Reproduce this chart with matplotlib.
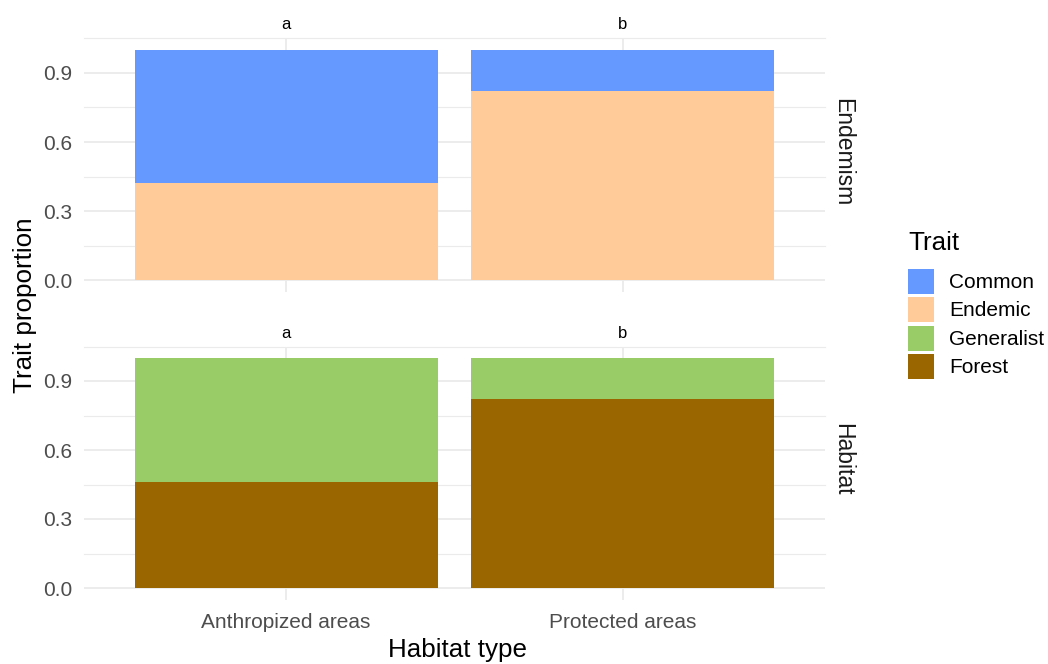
import numpy as np
import matplotlib.pyplot as plt
from matplotlib.patches import Rectangle

plt.rcParams['font.family'] = ['Liberation Sans', 'DejaVu Sans']

habitat_types = ["Anthropized areas", "Protected areas"]
facets = ["Endemism", "Habitat"]

# stacked proportions per facet (bottom layer first)
endemic = [0.42, 0.82]
common = [0.58, 0.18]
forest = [0.46, 0.82]
generalist = [0.54, 0.18]

letters = ["a", "b"]

colors = {
    "Common": "#6699FF",
    "Endemic": "#FFCC99",
    "Generalist": "#99CC66",
    "Forest": "#996600",
}

layers = {
    "Endemism": [("Endemic", endemic), ("Common", common)],
    "Habitat": [("Forest", forest), ("Generalist", generalist)],
}

W, H = 1048, 664
fig = plt.figure(figsize=(W / 100, H / 100), dpi=100)

left, right = 84 / W, 825 / W
panels = [(38.3, 291.8), (346.5, 599.5)]  # top/bottom pixel rows
strip_y = [152, 459]  # strip label centres, pixel rows

grid_col = "#EBEBEB"
x = np.arange(len(habitat_types))

axes = []
for (top_px, bot_px), facet, sy in zip(panels, facets, strip_y):
    ax = fig.add_axes([left, 1 - bot_px / H, right - left, (bot_px - top_px) / H])
    axes.append(ax)
    ax.set_xlim(-0.6, 1.6)
    ax.set_ylim(-0.05, 1.05)
    for s in ax.spines.values():
        s.set_visible(False)

    # gridlines like theme_minimal
    for yv in [0.0, 0.3, 0.6, 0.9]:
        ax.axhline(yv, color=grid_col, lw=1.3, zorder=0)
    for yv in [0.15, 0.45, 0.75, 1.05]:
        ax.axhline(yv, color=grid_col, lw=0.8, zorder=0, clip_on=False)
    for xv in x:
        ax.axvline(xv, color=grid_col, lw=1.3, zorder=0)

    bottom = np.zeros(len(x))
    for name, vals in layers[facet]:
        ax.bar(x, vals, width=0.9, bottom=bottom, color=colors[name],
               edgecolor="none", zorder=2)
        bottom = bottom + np.array(vals)

    for xi, lab in zip(x, letters):
        ax.text(xi, 1.108, lab, ha="center", va="center", fontsize=12,
                color="black", clip_on=False)

    ax.set_yticks([0.0, 0.3, 0.6, 0.9])
    ax.set_yticklabels(["0.0", "0.3", "0.6", "0.9"])
    ax.tick_params(axis="both", length=0, labelsize=15, labelcolor="#4D4D4D",
                   pad=8.5)
    ax.set_xticks(x)
    ax.set_xticklabels([])

    # facet strip label
    fig.text(843 / W, 1 - sy / H, facet, rotation=-90, ha="center",
             va="center", fontsize=16.5, color="#1A1A1A")

axes[1].set_xticklabels(habitat_types)
axes[1].tick_params(axis="x", pad=9.5)

fig.text(458 / W, 1 - 650 / H, "Habitat type", ha="center", va="center",
         fontsize=18.7)
fig.text(25 / W, 1 - 305 / H, "Trait proportion", ha="center", va="center",
         rotation=90, fontsize=18.7)

# legend drawn by hand: title, then one key per trait
fig.text(908 / W, 1 - 243 / H, "Trait", ha="left", va="center", fontsize=18.7)
for i, name in enumerate(colors):
    top = 269 + 28.3 * i
    fig.add_artist(Rectangle((908 / W, 1 - (top + 25) / H), 26 / W, 25 / H,
                             transform=fig.transFigure, facecolor=colors[name],
                             edgecolor="none"))
    fig.text(949 / W, 1 - (top + 13.5) / H, name, ha="left", va="center",
             fontsize=15)

fig.savefig("out.png", dpi=100, facecolor="white")
